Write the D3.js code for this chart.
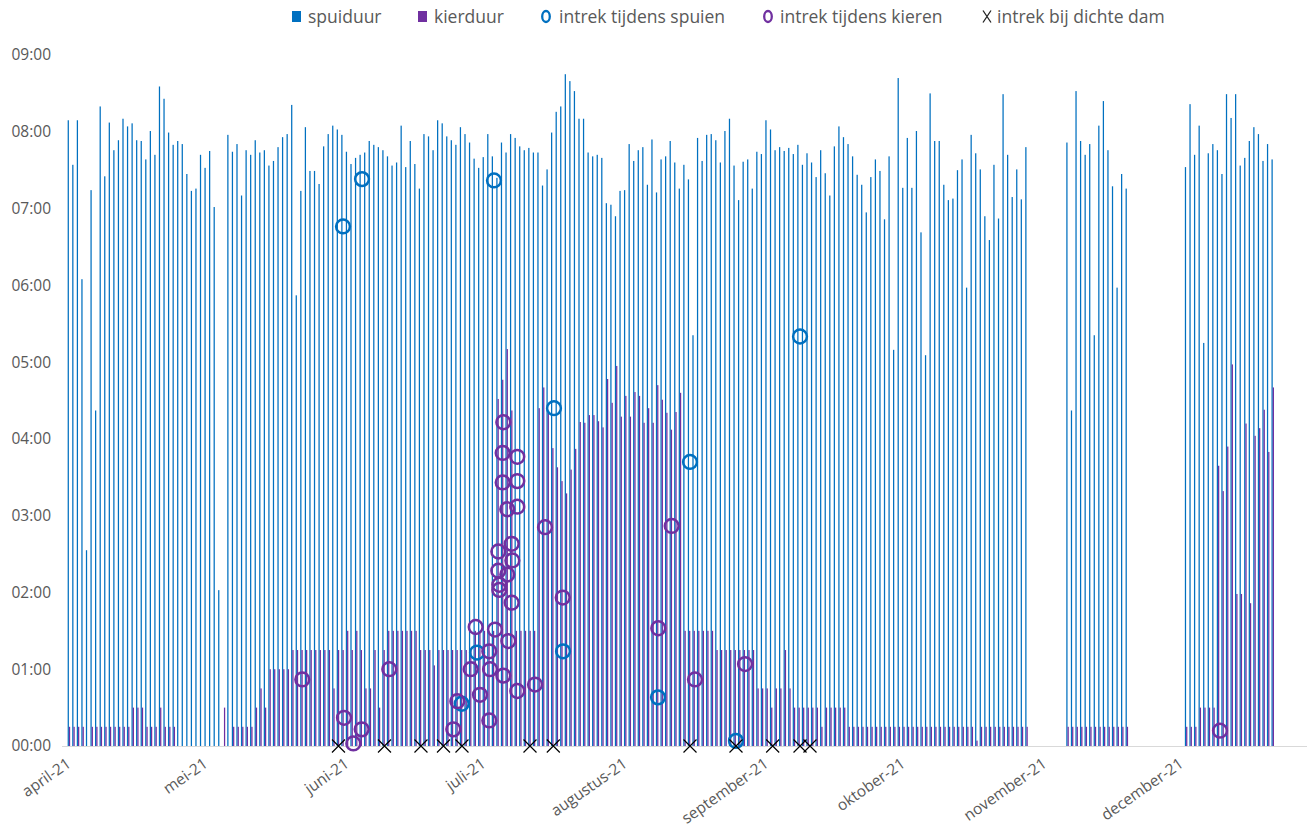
<!DOCTYPE html>
<html>
<head>
<meta charset="utf-8">
<script src="https://cdn.jsdelivr.net/npm/d3@7"></script>
<style>
  body { margin: 0; background: #fff; }
  svg { display: block; font-family: "Open Sans", "Noto Sans", sans-serif; }
</style>
</head>
<body>
<div class="vis-spui"><svg width="1307" height="827"></svg></div>
<script>
// dagelijkse waarden vanaf 1 april 2021, in uren (null = geen spuien)
const startDatum = "2021-04-01";

const spuiduur = [
  8.15, 7.57, 8.15, 6.08, 2.55, 7.24, 4.37, 8.33, 7.42, 8.12,
  7.76, 7.89, 8.17, 8.07, 8.11, 7.89, 7.88, 7.64, 8.01, 7.70,
  8.59, 8.43, 7.99, 7.83, 7.88, 7.84, 7.45, 7.23, 7.26, 7.70,
  7.53, 7.75, 7.02, 2.03, null, 7.96, 7.74, 7.84, 7.17, 7.76,
  7.70, 7.89, 7.73, 7.76, 7.56, 7.62, 7.80, 7.93, 7.97, 8.35,
  5.87, 7.23, 8.06, 7.49, 7.49, 7.32, 7.81, 7.97, 8.08, 8.03,
  7.96, 7.74, 7.58, 7.66, 7.70, 7.73, 7.88, 7.83, 7.80, 7.76,
  7.68, 7.56, 7.60, 8.08, 7.54, 7.88, 7.58, 7.26, 7.97, 7.94,
  7.76, 8.15, 8.11, 7.94, 7.89, 7.83, 8.06, 7.97, 7.86, 7.65,
  7.53, 7.67, 7.97, 7.68, 7.40, 7.86, 7.73, 7.97, 7.92, 7.81,
  7.76, 7.79, 7.73, 7.73, 7.30, 7.51, 7.99, 8.26, 8.33, 8.75,
  8.66, 8.53, 8.17, 8.17, 7.73, 7.68, 7.70, 7.66, 7.07, 7.05,
  6.90, 7.23, 7.24, 7.84, 7.62, 7.76, 7.80, 7.31, 7.90, 7.21,
  7.64, 7.68, 7.88, 7.60, 7.26, 7.57, 7.38, 5.35, 7.92, 7.62,
  7.96, 7.97, 7.89, 7.60, 8.01, 8.17, 7.56, 7.11, 7.61, 7.64,
  7.26, 7.74, 7.71, 8.15, 8.03, 7.76, 7.80, 7.75, 7.79, 7.71,
  7.83, 7.57, 7.72, 7.60, 7.41, 7.76, 7.46, 7.17, 7.81, 8.07,
  7.93, 7.84, 7.68, 7.44, 7.31, 6.95, 7.41, 7.64, 7.49, 6.86,
  7.68, 5.16, 8.70, 7.27, 7.92, 7.27, 8.01, 6.69, 5.09, 8.50,
  7.88, 7.88, 7.31, 7.11, 7.13, 7.50, 7.64, 5.97, 7.96, 7.72,
  7.51, 6.90, 6.59, 7.57, 6.87, 8.49, 7.70, 7.15, 7.51, 7.12,
  7.80, null, null, null, null, null, null, null, null, 7.86,
  4.37, 8.53, 7.88, 7.70, 7.84, 5.35, 8.08, 8.40, 7.76, 7.29,
  5.97, 7.45, 7.26, null, null, null, null, null, null, null,
  null, null, null, null, null, 7.54, 8.36, 7.70, 8.08, 5.25,
  7.72, 7.84, 7.76, 7.45, 8.49, 8.18, 8.49, 7.56, 7.66, 7.88,
  8.06, 7.97, 7.62, 7.84, 7.64
];

const kierduur = [
  0.25, 0.25, 0.25, 0.25, 0, 0.25, 0.25, 0.25, 0.25, 0.25,
  0.25, 0.25, 0.25, 0.25, 0.5, 0.5, 0.5, 0.25, 0.25, 0.25,
  0.5, 0.25, 0.25, 0.25, 0, 0, 0, 0, 0, 0,
  0, 0, 0, 0, 0.5, 0, 0.25, 0.25, 0.25, 0.25,
  0.25, 0.5, 0.75, 0.5, 1, 1, 1, 1, 1, 1.25,
  1.25, 1.25, 1.25, 1.25, 1.25, 1.25, 1.25, 1.25, 0.75, 1.25,
  1.25, 1.5, 1.25, 1.5, 1.25, 0.75, 0.75, 1.25, 0.5, 1.25,
  1.5, 1.5, 1.5, 1.5, 1.5, 1.5, 1.5, 1.25, 1.25, 1.25,
  1.05, 1.25, 1.25, 1.25, 1.25, 1.25, 1.25, 1.25, 1.25, 1.5,
  1.5, 1.5, 1.5, 1.5, 4.52, 4.77, 5.17, 4.37, 1.5, 1.5,
  1.5, 1.5, 1.5, 4.40, 4.67, 4.34, 3.88, 3.63, 3.45, 3.29,
  3.60, 3.87, 4.22, 4.21, 4.31, 4.31, 4.23, 4.15, 4.78, 4.47,
  4.95, 4.29, 4.56, 4.29, 4.61, 4.56, 4.21, 4.40, 4.21, 4.70,
  4.51, 4.34, 4.12, 4.35, 4.60, 1.5, 1.5, 1.5, 1.5, 1.5,
  1.5, 1.5, 1.25, 1.25, 1.25, 1.25, 1.25, 1.25, 1.25, 1.25,
  1.25, 0.75, 0.75, 0.75, 0.5, 0.75, 0.75, 1.25, 0.75, 0.5,
  0.5, 0.5, 0.5, 0.5, 0.5, 0.25, 0.5, 0.5, 0.5, 0.5,
  0.5, 0.25, 0.25, 0.25, 0.25, 0.25, 0.25, 0.25, 0.25, 0.25,
  0.25, 0.25, 0.25, 0.25, 0.25, 0.25, 0.25, 0.25, 0.25, 0.25,
  0.25, 0.25, 0.25, 0.25, 0.25, 0.25, 0.25, 0.25, 0.25, 0.07,
  0.25, 0.25, 0.25, 0.25, 0.25, 0.25, 0.25, 0.25, 0.25, 0.25,
  0.25, 0, 0, 0, 0, 0, 0, 0, 0, 0.25,
  0.25, 0.25, 0.25, 0.25, 0.25, 0.25, 0.25, 0.25, 0.25, 0.25,
  0.25, 0.25, 0.25, 0, 0, 0, 0, 0, 0, 0,
  0, 0, 0, 0, 0, 0.25, 0.25, 0.25, 0.5, 0.5,
  0.5, 0.5, 3.65, 3.32, 3.90, 4.97, 1.98, 1.98, 4.20, 1.86,
  4.04, 4.14, 4.38, 3.83, 4.67
];

// intrek: [tijdstip, tijd sinds begin (uu:mm)]
const intrekSpuien = [
  ["2021-05-31 02:40", "06:46"], ["2021-06-04 06:45", "07:23"],
  ["2021-06-26 03:20", "00:33"], ["2021-06-29 12:00", "01:13"],
  ["2021-07-03 05:15", "07:22"], ["2021-07-16 09:05", "04:24"],
  ["2021-07-18 08:40", "01:14"], ["2021-08-08 04:35", "00:38"],
  ["2021-08-15 05:00", "03:42"], ["2021-08-25 07:00", "00:04"],
  ["2021-09-08 08:00", "05:20"]
];

const intrekKieren = [
  ["2021-05-22 04:20", "00:52"], ["2021-05-31 08:00", "00:22"],
  ["2021-06-02 09:00", "00:02"], ["2021-06-04 05:00", "00:13"],
  ["2021-06-10 06:15", "01:00"], ["2021-06-24 07:10", "00:13"],
  ["2021-06-25 04:20", "00:35"], ["2021-06-28 02:40", "01:00"],
  ["2021-06-29 05:00", "01:33"], ["2021-06-30 03:35", "00:40"],
  ["2021-07-02 04:35", "01:14"], ["2021-07-02 04:35", "00:20"],
  ["2021-07-02 08:25", "01:00"], ["2021-07-03 10:35", "01:31"],
  ["2021-07-04 04:05", "02:32"], ["2021-07-04 04:05", "02:17"],
  ["2021-07-04 09:20", "02:06"], ["2021-07-04 09:20", "02:02"],
  ["2021-07-05 03:05", "03:49"], ["2021-07-05 03:05", "03:26"],
  ["2021-07-05 06:15", "04:13"], ["2021-07-05 06:15", "00:55"],
  ["2021-07-06 03:20", "03:05"], ["2021-07-06 03:20", "02:14"],
  ["2021-07-06 08:40", "01:22"], ["2021-07-07 02:40", "02:38"],
  ["2021-07-07 02:40", "01:52"], ["2021-07-07 05:45", "02:25"],
  ["2021-07-08 07:55", "03:46"], ["2021-07-08 07:55", "03:27"],
  ["2021-07-08 07:55", "03:07"], ["2021-07-08 07:55", "00:43"],
  ["2021-07-12 05:15", "00:48"], ["2021-07-14 09:50", "02:51"],
  ["2021-07-18 07:00", "01:56"], ["2021-08-08 06:00", "01:32"],
  ["2021-08-11 04:35", "02:52"], ["2021-08-16 07:10", "00:52"],
  ["2021-08-27 06:30", "01:04"], ["2021-12-09 10:20", "00:12"]
];

const intrekDichteDam = [
  "2021-05-30 02:50", "2021-06-09 05:00", "2021-06-17 05:00", "2021-06-22 03:35",
  "2021-06-26 04:50", "2021-07-11 02:50", "2021-07-16 05:30", "2021-08-15 05:00",
  "2021-08-25 07:00", "2021-09-02 08:10", "2021-09-08 08:00", "2021-09-10 12:30"
];

const uurTicks = [0, 1, 2, 3, 4, 5, 6, 7, 8, 9];
const maandLabels = ["april-21", "mei-21", "juni-21", "juli-21", "augustus-21",
  "september-21", "oktober-21", "november-21", "december-21"];

const kleurSpui = "#0070C0", kleurKier = "#7030A0", tekstKleur = "#595959";

const svg = d3.select(".vis-spui svg");
const parseDag = d3.timeParse("%Y-%m-%d");
const parseTijd = d3.timeParse("%Y-%m-%d %H:%M");
const uren = s => { const p = s.split(":"); return +p[0] + p[1] / 60; };

const start = parseDag(startDatum);
const dagPx = 4.56;
const x0 = 68.9;

// X as: tijdschaal, 1 dag = dagPx
const x = d3.scaleTime()
  .domain([start, d3.timeDay.offset(start, 270)])
  .range([x0, x0 + 270 * dagPx]);

// Y as: uren
const y = d3.scaleLinear().domain([0, 9]).range([746, 55]);

const dagen = spuiduur.map((v, i) => ({
  datum: d3.timeDay.offset(start, i),
  spui: v,
  kier: kierduur[i]
}));

const barW = 1.25;

// spuiduur
svg.append("g").selectAll("rect")
  .data(dagen.filter(d => d.spui))
  .join("rect")
  .attr("x", d => x(d.datum) - barW)
  .attr("y", d => y(d.spui))
  .attr("width", barW)
  .attr("height", d => y(0) - y(d.spui))
  .attr("fill", kleurSpui);

// kierduur
svg.append("g").selectAll("rect")
  .data(dagen.filter(d => d.kier))
  .join("rect")
  .attr("x", d => x(d.datum))
  .attr("y", d => y(d.kier))
  .attr("width", barW)
  .attr("height", d => y(0) - y(d.kier))
  .attr("fill", kleurKier);

// x-as lijn
svg.append("line")
  .attr("x1", 62).attr("x2", 1307)
  .attr("y1", y(0) + 0.5).attr("y2", y(0) + 0.5)
  .attr("stroke", "#d9d9d9").attr("stroke-width", 1);

// y labels
svg.append("g").selectAll("text")
  .data(uurTicks)
  .join("text")
  .attr("x", 51)
  .attr("y", d => y(d))
  .attr("dy", "0.35em")
  .attr("text-anchor", "end")
  .attr("font-size", 15.5)
  .attr("fill", tekstKleur)
  .text(d => String(d).padStart(2, "0") + ":00");

// maand labels
svg.append("g").selectAll("text")
  .data(maandLabels)
  .join("text")
  .attr("transform", (d, i) => `translate(${x(d3.timeMonth.offset(start, i)) + 3},766) rotate(-35)`)
  .attr("text-anchor", "end")
  .attr("font-size", 15.5)
  .attr("fill", tekstKleur)
  .text(d => d);

// intrek tijdens spuien / kieren
const ring = (data, kleur) => svg.append("g").selectAll("circle")
  .data(data)
  .join("circle")
  .attr("cx", d => x(parseTijd(d[0])))
  .attr("cy", d => y(uren(d[1])))
  .attr("r", 6.9)
  .attr("fill", "none")
  .attr("stroke", kleur)
  .attr("stroke-width", 2.5);

ring(intrekSpuien, kleurSpui);
ring(intrekKieren, kleurKier);

// intrek bij dichte dam
const kruis = 6.5;
svg.append("g").selectAll("path")
  .data(intrekDichteDam)
  .join("path")
  .attr("transform", d => `translate(${x(parseTijd(d))},${y(0)})`)
  .attr("d", `M${-kruis},${-kruis}L${kruis},${kruis}M${-kruis},${kruis}L${kruis},${-kruis}`)
  .attr("stroke", "#000")
  .attr("stroke-width", 1.2)
  .attr("fill", "none");

// legenda
const legenda = [
  { naam: "spuiduur", type: "rect", kleur: kleurSpui, x: 292, tx: 308 },
  { naam: "kierduur", type: "rect", kleur: kleurKier, x: 418, tx: 434 },
  { naam: "intrek tijdens spuien", type: "ring", kleur: kleurSpui, x: 546, tx: 559 },
  { naam: "intrek tijdens kieren", type: "ring", kleur: kleurKier, x: 768, tx: 780 },
  { naam: "intrek bij dichte dam", type: "kruis", kleur: "#000", x: 987, tx: 997 }
];
const lg = svg.append("g").selectAll("g")
  .data(legenda)
  .join("g")
  .attr("transform", "translate(0,16)");

lg.filter(d => d.type === "rect").append("rect")
  .attr("x", d => d.x).attr("y", -5).attr("width", 9).attr("height", 11)
  .attr("fill", d => d.kleur);
lg.filter(d => d.type === "ring").append("ellipse")
  .attr("cx", d => d.x).attr("cy", 0.5).attr("rx", 3.8).attr("ry", 5.5)
  .attr("fill", "none").attr("stroke", d => d.kleur).attr("stroke-width", 2.3);
lg.filter(d => d.type === "kruis").append("path")
  .attr("d", d => `M${d.x - 4},-5.5L${d.x + 4},6.5M${d.x - 4},6.5L${d.x + 4},-5.5`)
  .attr("stroke", "#222").attr("stroke-width", 1.3);
lg.append("text")
  .attr("x", d => d.tx)
  .attr("dy", "0.38em")
  .attr("font-size", 17.5)
  .attr("fill", tekstKleur)
  .text(d => d.naam);
</script>
</body>
</html>
